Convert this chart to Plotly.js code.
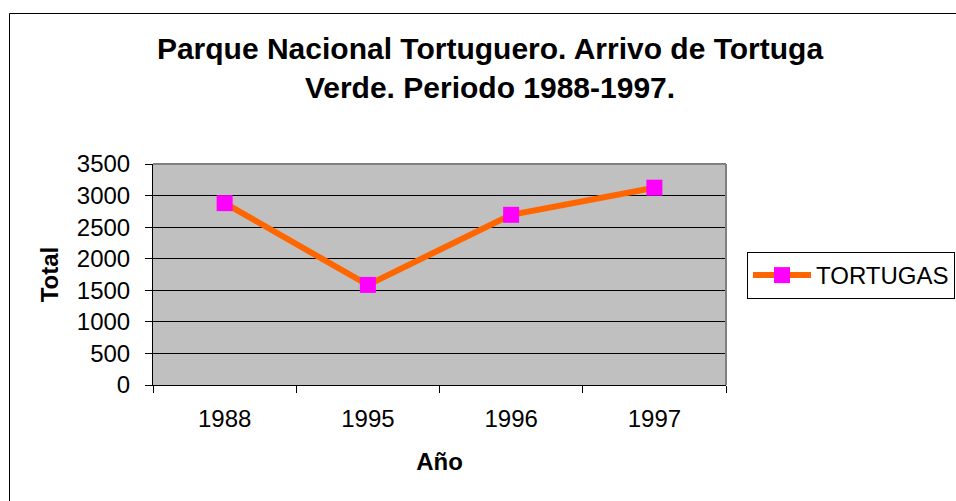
<!DOCTYPE html>
<html>
<head>
<meta charset="utf-8">
<script src="https://cdn.plot.ly/plotly-3.0.1.min.js"></script>
<style>html,body{margin:0;padding:0;background:#fff;}#chart{width:956px;height:501px;}</style>
</head>
<body>
<div id="chart"></div>
<script>
const years = ["1988", "1995", "1996", "1997"];
const tortugas = [2880, 1585, 2695, 3125];
const yTicks = [0, 500, 1000, 1500, 2000, 2500, 3000, 3500];
const seriesName = "TORTUGAS";
const titleText = "Parque Nacional Tortuguero. Arrivo de Tortuga<br>Verde. Periodo 1988-1997.";

const L = 153, R = 726, T = 164, B = 385, W = 956, H = 501;
const pw = R - L, ph = B - T;
const px = v => (v - L) / pw;
const py = v => (B - v) / ph;
const FONT = "Liberation Sans, Arial, sans-serif";

const trace = {
  x: years, y: tortugas, name: seriesName, type: "scatter", mode: "lines+markers",
  line: {color: "#FF6600", width: 6},
  marker: {symbol: "square", size: 16, color: "#FF00FF", line: {width: 0}}
};

const layout = {
  width: W, height: H,
  margin: {l: L, r: W - R, t: T, b: H - B, pad: 0, autoexpand: false},
  paper_bgcolor: "#ffffff",
  plot_bgcolor: "#C0C0C0",
  font: {family: FONT, color: "#000", size: 24},
  title: {
    text: "<b>" + titleText + "</b>",
    font: {size: 30, family: FONT, color: "#000"},
    x: 490 / W, xanchor: "center", xref: "container",
    y: 1 - 59 / H, yanchor: "top", yref: "container"
  },
  showlegend: true,
  legend: {
    x: px(747), y: py(252), xanchor: "left", yanchor: "top",
    bordercolor: "#000", borderwidth: 1, bgcolor: "#fff",
    font: {size: 24, color: "#000", family: FONT},
    itemwidth: 58
  },
  xaxis: {
    type: "category", range: [-0.5, 3.5],
    tickson: "boundaries", ticks: "outside", ticklen: 7, tickcolor: "#000", tickwidth: 1,
    showline: true, linecolor: "#000", linewidth: 1,
    showgrid: false, zeroline: false,
    tickfont: {size: 24},
    ticklabelstandoff: 12,
    title: {text: "<b>Año</b>", font: {size: 24}, standoff: 22},
    automargin: false
  },
  yaxis: {
    range: [0, 3500], tickvals: yTicks, ticktext: yTicks.map(String),
    ticks: "outside", ticklen: 7, tickcolor: "#000", tickwidth: 1,
    showline: true, linecolor: "#000", linewidth: 1,
    showgrid: true, gridcolor: "#000", gridwidth: 1, zeroline: false,
    tickfont: {size: 24},
    ticklabelstandoff: 10,
    title: {text: "<b>Total</b>", font: {size: 24}, standoff: 11},
    automargin: false
  },
  shapes: [
    {type: "rect", xref: "paper", yref: "paper", x0: px(9.5), x1: px(1200), y0: py(13.5), y1: py(800),
     line: {color: "#000", width: 1}, fillcolor: "rgba(0,0,0,0)", layer: "below"},
    {type: "line", xref: "paper", yref: "paper", x0: 0, x1: 1, y0: 1, y1: 1, line: {color: "#808080", width: 2}, layer: "above"},
    {type: "line", xref: "paper", yref: "paper", x0: 1, x1: 1, y0: 0, y1: 1, line: {color: "#808080", width: 2}, layer: "above"}
  ]
};

Plotly.newPlot("chart", [trace], layout, {displayModeBar: false, staticPlot: true});
</script>
</body>
</html>
